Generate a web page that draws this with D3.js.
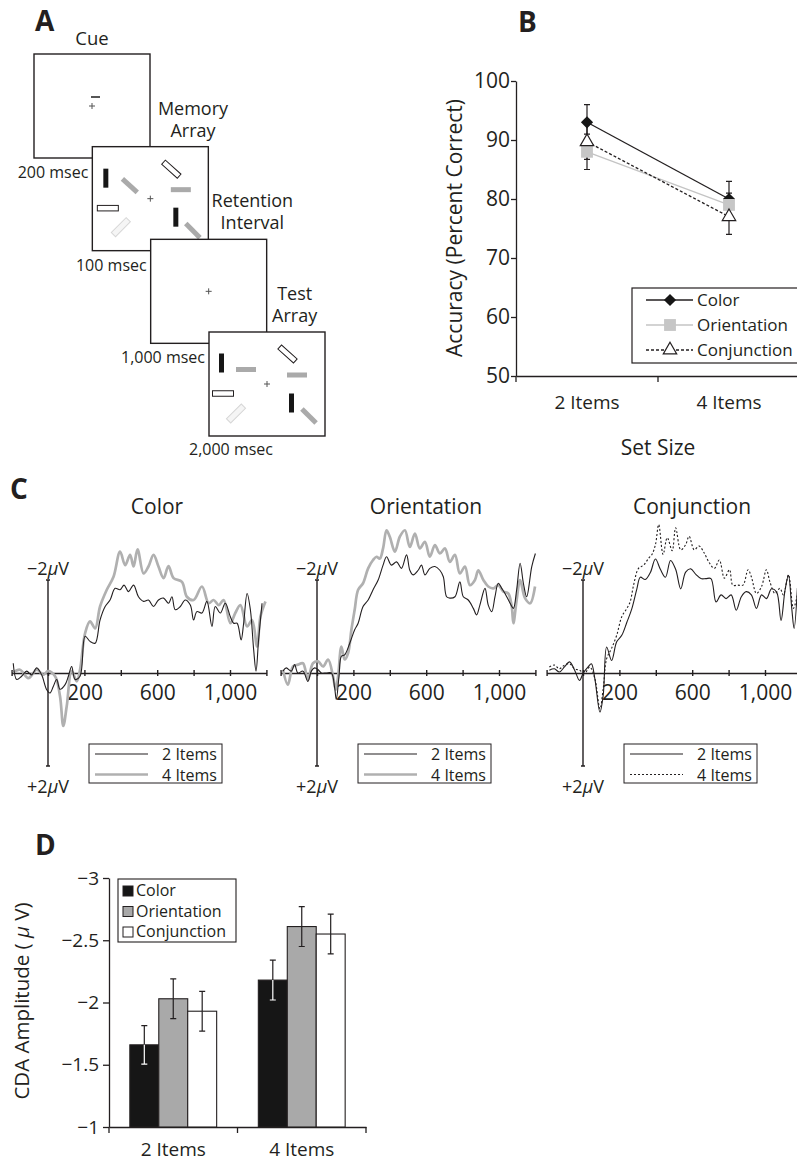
<!DOCTYPE html>
<html lang="en">
<head>
<meta charset="UTF-8">
<title>Visual working memory: accuracy and CDA</title>
<script src="https://d3js.org/d3.v7.min.js"></script>
<style>
    body { margin: 0; background: #fff; }
    svg { display: block; font-family: "Open Sans", sans-serif; }
    text { fill: #231f20; }
</style>
</head>
<body>
<script>
    // ---------- data ----------
    var setSizes = ["2 Items", "4 Items"];
    var conditions = ["Color", "Orientation", "Conjunction"];

    // Panel A: trial sequence
    var frameNames = [["Cue"], ["Memory", "Array"], ["Retention", "Interval"], ["Test", "Array"]];
    var frameDurations = ["200 msec", "100 msec", "1,000 msec", "2,000 msec"];
    // items inside each frame (frame units, angle in degrees)
    var cueItems = [{x: 61.5, y: 43, angle: 0, kind: "cue"}];
    var memoryItems = [
        {x: 13.5, y: 31.5, angle: 90, kind: "black"},
        {x: 37.5, y: 39, angle: 42, kind: "gray"},
        {x: 79, y: 22.5, angle: 42, kind: "outline"},
        {x: 88.5, y: 43, angle: 0, kind: "gray"},
        {x: 15.5, y: 61.5, angle: 0, kind: "outline"},
        {x: 83.5, y: 70.5, angle: 90, kind: "black"},
        {x: 100.5, y: 84, angle: 45, kind: "gray"},
        {x: 28.5, y: 80.5, angle: -45, kind: "light"}
    ];
    var testItems = [
        {x: 12.5, y: 31, angle: 90, kind: "black"},
        {x: 37, y: 37.5, angle: 0, kind: "gray"},
        {x: 78.5, y: 22, angle: 42, kind: "outline"},
        {x: 88, y: 43, angle: 0, kind: "gray"},
        {x: 14, y: 61.5, angle: 0, kind: "outline"},
        {x: 82.5, y: 71, angle: 90, kind: "black"},
        {x: 100, y: 84, angle: 45, kind: "gray"},
        {x: 27, y: 81.5, angle: -45, kind: "light"}
    ];

    // Panel B: accuracy (percent correct)
    var accTicks = [50, 60, 70, 80, 90, 100];
    var accColor = [93, 80], accColorErr = [3, 3];
    var accOrient = [88, 79], accOrientErr = [3, 2];
    var accConj = [89.7, 77], accConjErr = [3, 3];

    // Panel C: CDA waveforms (ms, microvolts; negative plotted up)
    var ercTicks = [-200, 0, 200, 400, 600, 800, 1000, 1200];
    var ercLabeled = [200, 600, 1000];

    var colorT2 = [-191,-172,-145,-117,-90,-62,-35,-7,11,29,48,66,94,112,130,149,176,204,231,259,286,314,341,369,396,418,442,470,497,525,552,580,607,635,662,681,699,727,754,782,800,818,846,873,901,919,947,974,1002,1020,1039,1061,1075,1094,1112,1130,1143,1157,1176];
    var colorV2 = [-0.21,0.14,0.07,-0.04,0.04,-0.11,0.04,0.36,0.43,0.29,0.14,0.35,0.25,0.07,-0.14,0.14,0.07,-0.79,-0.68,-0.64,-1.14,-1.43,-1.57,-1.82,-1.79,-1.89,-1.75,-1.89,-1.64,-1.54,-1.57,-1.43,-1.57,-1.61,-1.5,-1.64,-1.36,-1.43,-1.57,-1.46,-1.14,-1.32,-1.29,-1.54,-1.0,-1.43,-1.29,-1.5,-1.21,-1.07,-1.07,-0.71,-1.07,-1.71,-1.36,-0.5,-0.04,-0.71,-1.5];
    var colorT4 = [-191,-154,-108,-62,-26,0,39,66,84,103,130,158,176,204,231,259,286,323,360,396,424,451,470,492,525,552,580,607,635,662,690,736,763,800,846,883,910,938,965,1002,1029,1057,1094,1121,1149,1167,1195];
    var colorV4 = [-0.01,-0.07,0.11,-0.07,0.04,-0.04,0.07,0.5,1.14,0.71,-0.04,0.18,-0.07,-0.86,-1.11,-0.96,-1.43,-1.79,-2.07,-2.61,-2.32,-2.54,-2.29,-2.66,-2.14,-2.29,-2.54,-2.29,-2.04,-2.3,-2.04,-1.96,-1.64,-1.57,-1.86,-1.5,-1.57,-1.46,-1.57,-1.07,-1.29,-1.46,-1.0,-1.14,-0.57,-1.21,-1.54];

    var orientT2 = [-187,-169,-141,-123,-105,-77,-50,-31,-13,6,24,51,79,97,106,121,134,152,180,207,226,253,281,308,336,363,382,409,437,464,492,510,528,556,574,593,620,648,675,694,712,730,758,785,804,831,859,877,895,923,941,960,978,996,1015,1033,1061,1079,1097,1116,1134,1152,1180,1200];
    var orientV2 = [-0.04,-0.11,-0.04,-0.18,0.0,-0.04,0.18,-0.04,-0.11,-0.07,0.0,0.0,0.0,0.32,0.57,0.07,-0.36,-0.39,-0.64,-0.93,-1.07,-1.43,-1.57,-1.79,-2.0,-2.32,-2.5,-2.32,-2.39,-2.25,-2.54,-2.21,-2.11,-2.21,-2.32,-2.11,-2.25,-2.29,-2.21,-2.07,-1.64,-1.61,-1.64,-1.96,-1.64,-1.57,-1.39,-1.25,-1.46,-1.82,-1.46,-1.32,-1.64,-1.93,-1.82,-1.71,-1.5,-1.39,-1.79,-2.36,-1.93,-1.64,-2.29,-2.57];
    var orientT4 = [-187,-160,-132,-105,-77,-50,-22,6,33,61,88,103,116,134,152,171,189,207,226,253,281,308,327,345,363,382,400,428,455,483,510,538,565,593,620,648,675,703,730,758,785,813,840,868,886,914,941,969,996,1024,1051,1070,1079,1097,1116,1143,1171,1198];
    var orientV4 = [-0.07,0.25,-0.14,-0.18,-0.21,0.14,-0.21,-0.25,-0.14,-0.29,0.07,0.36,0.07,-0.57,-0.29,-0.43,-0.93,-1.36,-1.79,-1.93,-2.25,-2.43,-2.5,-2.46,-2.68,-3.07,-2.93,-2.61,-2.93,-3.07,-2.71,-3.0,-2.68,-2.82,-2.5,-2.75,-2.57,-2.68,-2.39,-2.54,-2.14,-2.29,-1.89,-2.0,-2.21,-2.0,-1.86,-1.82,-1.89,-1.75,-1.71,-1.43,-1.07,-1.57,-2.0,-1.61,-1.5,-1.86];

    var conjT2 = [-185,-157,-130,-102,-74,-46,-19,0,28,46,65,93,111,130,157,185,213,241,268,296,315,342,370,398,425,453,481,509,537,564,592,620,648,675,703,731,759,786,814,842,870,897,925,953,981,1008,1036,1064,1088,1110,1129,1147,1160,1178];
    var conjV2 = [-0.06,-0.09,-0.02,-0.13,-0.24,-0.06,0.16,0.01,-0.13,-0.2,0.12,0.84,0.48,-0.56,-0.27,-0.67,-0.81,-1.09,-1.38,-1.81,-2.06,-2.01,-2.16,-2.45,-2.23,-2.06,-2.42,-2.23,-1.81,-2.17,-2.24,-2.12,-2.03,-2.03,-2.03,-1.53,-1.68,-1.6,-1.68,-1.35,-1.64,-1.75,-1.68,-1.39,-1.68,-1.6,-1.81,-1.74,-1.13,-1.78,-2.1,-1.39,-0.96,-1.83];
    var conjT4 = [-185,-157,-130,-102,-74,-46,-19,9,37,65,93,111,130,157,185,213,241,259,278,305,333,361,379,398,416,440,463,490,509,537,564,583,611,638,666,694,722,749,777,805,823,851,879,907,925,953,981,1008,1027,1055,1082,1101,1129,1156,1178];
    var conjV4 = [-0.13,-0.17,-0.09,-0.17,-0.2,-0.09,-0.06,0.01,-0.13,0.12,0.77,0.34,-0.31,-0.53,-0.81,-1.21,-1.39,-1.53,-1.89,-2.25,-2.32,-2.47,-2.55,-2.76,-3.19,-2.55,-2.91,-2.63,-3.12,-2.65,-2.76,-2.94,-2.65,-2.73,-2.58,-2.37,-2.25,-2.43,-2.04,-2.22,-1.89,-1.89,-1.89,-2.22,-2.07,-1.71,-1.86,-2.22,-1.96,-1.71,-1.82,-1.68,-2.11,-1.39,-1.68];

    // Panel D: CDA amplitude (microvolts)
    var cdaTicks = [-1, -1.5, -2, -2.5, -3];
    var cdaColor = [-1.66, -2.18], cdaColorErr = [0.155, 0.16];
    var cdaOrient = [-2.03, -2.61], cdaOrientErr = [0.16, 0.16];
    var cdaConj = [-1.93, -2.55], cdaConjErr = [0.16, 0.16];

    // ---------- setup ----------
    var ink = "#231f20";
    var svg = d3.select("body").append("svg")
        .attr("width", 797)
        .attr("height", 1164);

    function panelLetter(t, x, y) {
        svg.append("text").attr("x", x).attr("y", y)
            .attr("font-size", 28).attr("font-weight", 700).text(t);
    }
    panelLetter("A", 35, 31);
    panelLetter("B", 518, 32);
    panelLetter("C", 10, 499);
    panelLetter("D", 35, 855);

    // stacked lines in one text element
    function multiLine(g, x, y, lines, lineH, size, anchor) {
        var t = g.append("text").attr("x", x).attr("y", y)
            .attr("text-anchor", anchor).attr("font-size", size);
        lines.forEach(function(l, k) {
            t.append("tspan").attr("x", x).attr("dy", k === 0 ? 0 : lineH).text(l);
        });
        return t;
    }

    // ---------- Panel A ----------
    var gA = svg.append("g");
    var boxW = 116, boxH = 104;
    var frameX = d3.scaleLinear().domain([0, 3]).range([34, 209]);
    var frameY = d3.scaleLinear().domain([0, 3]).range([54, 332]);
    var labelDx = [0, 43, 44, 28];
    var itemSize = {black: [19, 5], gray: [20, 5], outline: [21, 5.5], light: [21, 6], cue: [9, 1.8]};
    var itemFill = {black: "#161616", gray: "#aaaaaa", outline: "#fff", light: "#f5f5f5", cue: "#444"};
    var itemStroke = {black: "none", gray: "none", outline: ink, light: "#d6d6d6", cue: "none"};
    var frameItems = [cueItems, memoryItems, [], testItems];

    frameNames.forEach(function(name, i) {
        var x0 = frameX(i), y0 = frameY(i);
        var g = gA.append("g").attr("transform", "translate(" + x0 + "," + y0 + ")");
        g.append("rect")
            .attr("width", boxW).attr("height", boxH)
            .attr("fill", "#fff").attr("stroke", ink).attr("stroke-width", 1.4);

        // fixation cross
        var cx = boxW / 2, cy = boxH / 2;
        g.append("path")
            .attr("d", "M" + (cx - 3) + "," + cy + "h6M" + cx + "," + (cy - 3) + "v6")
            .attr("stroke", "#555").attr("stroke-width", 1);

        g.selectAll(".item")
            .data(frameItems[i])
            .enter().append("rect")
            .attr("class", "item")
            .attr("x", function(d) { return -itemSize[d.kind][0] / 2; })
            .attr("y", function(d) { return -itemSize[d.kind][1] / 2; })
            .attr("width", function(d) { return itemSize[d.kind][0]; })
            .attr("height", function(d) { return itemSize[d.kind][1]; })
            .attr("fill", function(d) { return itemFill[d.kind]; })
            .attr("stroke", function(d) { return itemStroke[d.kind]; })
            .attr("stroke-width", 1)
            .attr("transform", function(d) { return "translate(" + d.x + "," + d.y + ") rotate(" + d.angle + ")"; });

        // frame title
        if (i === 0) {
            gA.append("text").attr("x", x0 + boxW / 2).attr("y", 45)
                .attr("text-anchor", "middle").attr("font-size", 18.5).text(name[0]);
        } else {
            var lx = frameX(i - 1) + boxW + labelDx[i];
            multiLine(gA, lx, y0 - 32, name, 22, 18, "middle");
        }
    });

    // durations, drawn after boxes
    frameDurations.forEach(function(t, i) {
        var ex = i < 3 ? frameX(i + 1) - 4 : frameX(i) + 64;
        gA.append("text")
            .attr("x", ex).attr("y", frameY(i) + boxH + (i < 3 ? 20 : 19))
            .attr("text-anchor", "end").attr("font-size", 16).text(t);
    });

    // ---------- Panel B ----------
    var gB = svg.append("g");
    var bx = d3.scaleBand().domain(setSizes).range([516, 800]);
    var by = d3.scaleLinear().domain([50, 100]).range([376, 81]);

    var yAxisB = gB.append("g").attr("transform", "translate(516,0)")
        .call(d3.axisLeft(by).tickValues(accTicks).tickSize(5).tickPadding(1).tickSizeOuter(0));
    var xAxisB = gB.append("g").attr("transform", "translate(0,376)")
        .call(d3.axisBottom(bx).tickSize(0).tickPadding(20).tickSizeOuter(0));
    yAxisB.selectAll("text").attr("font-size", 21).attr("font-family", "Open Sans").attr("fill", ink);
    xAxisB.selectAll("text").attr("font-size", 19).attr("font-family", "Open Sans").attr("fill", ink);
    gB.selectAll(".domain, .tick line").attr("stroke", ink).attr("stroke-width", 1.3);
    gB.selectAll(".bound")
        .data(setSizes)
        .enter().append("line")
        .attr("x1", function(d) { return bx(d); }).attr("x2", function(d) { return bx(d); })
        .attr("y1", 376).attr("y2", 382)
        .attr("stroke", ink).attr("stroke-width", 1.3);

    gB.append("text").attr("x", (bx.range()[0] + bx.range()[1]) / 2).attr("y", 455)
        .attr("text-anchor", "middle").attr("font-size", 21).text("Set Size");
    gB.append("text").attr("transform", "translate(462,228) rotate(-90)")
        .attr("text-anchor", "middle").attr("font-size", 21).text("Accuracy (Percent Correct)");

    var accSeries = [
        {name: "Color", values: accColor, errs: accColorErr},
        {name: "Orientation", values: accOrient, errs: accOrientErr},
        {name: "Conjunction", values: accConj, errs: accConjErr}
    ];
    var accStyle = {
        Color: {stroke: ink, dash: null, symbol: d3.symbolSquare, size: 74, rot: 45, fill: "#161616", mstroke: "none"},
        Orientation: {stroke: "#c4c4c4", dash: null, symbol: d3.symbolSquare, size: 140, rot: 0, fill: "#c6c6c6", mstroke: "none"},
        Conjunction: {stroke: ink, dash: "3,2", symbol: d3.symbolTriangle, size: 78, rot: 0, fill: "#fff", mstroke: ink}
    };
    var cx = function(i) { return bx(setSizes[i]) + bx.bandwidth() / 2; };
    var accLine = d3.line().x(function(d, i) { return cx(i); }).y(function(d) { return by(d); });

    accSeries.forEach(function(s) {
        var st = accStyle[s.name];
        gB.append("path").attr("d", accLine(s.values))
            .attr("fill", "none").attr("stroke", st.stroke).attr("stroke-width", 1.3)
            .attr("stroke-dasharray", st.dash);
    });
    accSeries.forEach(function(s) {
        s.values.forEach(function(v, i) {
            var x = cx(i), y1 = by(v + s.errs[i]), y2 = by(v - s.errs[i]);
            gB.append("path")
                .attr("d", "M" + x + "," + y1 + "V" + y2 + "M" + (x - 3) + "," + y1 + "h6M" + (x - 3) + "," + y2 + "h6")
                .attr("stroke", ink).attr("stroke-width", 1.2).attr("fill", "none");
        });
    });
    function marker(g, name, x, y) {
        var st = accStyle[name];
        g.append("path")
            .attr("d", d3.symbol(st.symbol, st.size)())
            .attr("transform", "translate(" + x + "," + y + ") rotate(" + st.rot + ")")
            .attr("fill", st.fill).attr("stroke", st.mstroke).attr("stroke-width", 1.2);
    }
    accSeries.forEach(function(s) {
        s.values.forEach(function(v, i) { marker(gB, s.name, cx(i), by(v)); });
    });

    // legend B
    var legB = gB.append("g");
    legB.append("rect").attr("x", 632).attr("y", 288).attr("width", 172).attr("height", 75)
        .attr("fill", "#fff").attr("stroke", ink).attr("stroke-width", 1.2);
    conditions.forEach(function(name, k) {
        var ry = 300 + k * 25, st = accStyle[name];
        legB.append("line").attr("x1", 646).attr("x2", 693).attr("y1", ry).attr("y2", ry)
            .attr("stroke", st.stroke).attr("stroke-width", 1.3).attr("stroke-dasharray", st.dash);
        marker(legB, name, 670, ry);
        legB.append("text").attr("x", 697).attr("y", ry + 6).attr("font-size", 17).text(name);
    });

    // ---------- Panel C ----------
    var ercAxisX = [48, 317, 583];
    var ercPanels = [
        {title: "Color", t2: colorT2, v2: colorV2, t4: colorT4, v4: colorV4, style4: "gray"},
        {title: "Orientation", t2: orientT2, v2: orientV2, t4: orientT4, v4: orientV4, style4: "gray"},
        {title: "Conjunction", t2: conjT2, v2: conjV2, t4: conjT4, v4: conjV4, style4: "dotted"}
    ];
    var yC = d3.scaleLinear().domain([-2, 2]).range([580, 766]);
    var style4 = {
        gray: {stroke: "#b0b0b0", width: 2.7, dash: null},
        dotted: {stroke: ink, width: 1.1, dash: "2,2"}
    };

    function uvLabel(g, x, y, sign) {
        var t = g.append("text").attr("x", x).attr("y", y).attr("text-anchor", "middle").attr("font-size", 18);
        t.append("tspan").text(sign + "2");
        t.append("tspan").attr("font-style", "italic").text("\u03bc");
        t.append("tspan").text("V");
    }

    ercPanels.forEach(function(p, i) {
        var x0 = ercAxisX[i];
        var g = svg.append("g");
        var x = d3.scaleLinear().domain([-200, 1200]).range([x0 - 36.4, x0 + 218.4]);

        g.append("text").attr("x", x0 + 109).attr("y", 514)
            .attr("text-anchor", "middle").attr("font-size", 21).text(p.title);

        var ax = g.append("g").attr("transform", "translate(0," + yC(0) + ")")
            .call(d3.axisBottom(x).tickValues(ercTicks)
                .tickFormat(function(d) { return ercLabeled.indexOf(d) >= 0 ? d3.format(",")(d) : ""; })
                .tickSize(3).tickPadding(9).tickSizeOuter(0));
        ax.selectAll(".tick line").attr("y1", -3);
        ax.selectAll(".domain, .tick line").attr("stroke", ink).attr("stroke-width", 1.4);
        ax.selectAll("text").attr("font-size", 21).attr("font-family", "Open Sans").attr("fill", ink);

        g.append("path")
            .attr("d", "M" + x(0) + "," + yC(-2) + "V" + yC(2) +
                       "M" + (x(0) - 2) + "," + yC(-2) + "h4M" + (x(0) - 2) + "," + yC(2) + "h4")
            .attr("stroke", ink).attr("stroke-width", 1.4);
        uvLabel(g, x(0), 575, "\u2212");
        uvLabel(g, x(0), 793, "+");

        var line = d3.line()
            .x(function(d) { return x(d[0]); })
            .y(function(d) { return yC(d[1]); })
            .curve(d3.curveCatmullRom.alpha(0.5));
        var s4 = style4[p.style4];
        g.append("path").attr("d", line(d3.zip(p.t4, p.v4)))
            .attr("fill", "none").attr("stroke", s4.stroke).attr("stroke-width", s4.width)
            .attr("stroke-dasharray", s4.dash).attr("stroke-linejoin", "round");
        g.append("path").attr("d", line(d3.zip(p.t2, p.v2)))
            .attr("fill", "none").attr("stroke", ink).attr("stroke-width", 1.1)
            .attr("stroke-linejoin", "round");

        // legend
        var lg = g.append("g").attr("transform", "translate(" + (x0 + 41) + ",744)");
        lg.append("rect").attr("width", 133).attr("height", 39)
            .attr("fill", "#fff").attr("stroke", ink).attr("stroke-width", 1);
        lg.append("line").attr("x1", 6).attr("x2", 59).attr("y1", 10).attr("y2", 10)
            .attr("stroke", ink).attr("stroke-width", 1.1);
        lg.append("line").attr("x1", 6).attr("x2", 59).attr("y1", 30.5).attr("y2", 30.5)
            .attr("stroke", s4.stroke).attr("stroke-width", s4.width).attr("stroke-dasharray", s4.dash);
        multiLine(lg, 128, 16, setSizes, 20.5, 16, "end");
    });

    // ---------- Panel D ----------
    var gD = svg.append("g");
    var dx0 = d3.scaleBand().domain(setSizes).range([109, 366]);
    var dx1 = d3.scaleBand().domain(conditions).range([0, dx0.bandwidth()]).paddingInner(0).paddingOuter(0.72);
    var dy = d3.scaleLinear().domain([-1, -3]).range([1127, 878]);

    var yAxisD = gD.append("g").attr("transform", "translate(109,0)")
        .call(d3.axisLeft(dy).tickValues(cdaTicks).tickFormat(d3.format("")).tickSize(6).tickPadding(4).tickSizeOuter(0));
    var xAxisD = gD.append("g").attr("transform", "translate(0,1127)")
        .call(d3.axisBottom(dx0).tickSize(0).tickPadding(16).tickSizeOuter(0));
    yAxisD.selectAll("text").attr("font-size", 19).attr("font-family", "Open Sans").attr("fill", ink);
    xAxisD.selectAll("text").attr("font-size", 19).attr("font-family", "Open Sans").attr("fill", ink);
    gD.selectAll(".domain, .tick line").attr("stroke", ink).attr("stroke-width", 1.3);
    gD.selectAll(".bound")
        .data(setSizes.concat(["end"]))
        .enter().append("line")
        .attr("x1", function(d) { return d === "end" ? dx0.range()[1] : dx0(d); })
        .attr("x2", function(d) { return d === "end" ? dx0.range()[1] : dx0(d); })
        .attr("y1", 1127).attr("y2", 1133)
        .attr("stroke", ink).attr("stroke-width", 1.3);

    var yl = gD.append("text").attr("transform", "translate(29,1001) rotate(-90)")
        .attr("text-anchor", "middle").attr("font-size", 20.5);
    yl.append("tspan").text("CDA Amplitude ( ");
    yl.append("tspan").attr("font-style", "italic").text("\u03bc");
    yl.append("tspan").text(" V)");

    var cdaSeries = [
        {name: "Color", values: cdaColor, errs: cdaColorErr},
        {name: "Orientation", values: cdaOrient, errs: cdaOrientErr},
        {name: "Conjunction", values: cdaConj, errs: cdaConjErr}
    ];
    var barFill = {Color: "#161616", Orientation: "#a9a9a9", Conjunction: "#fff"};

    cdaSeries.forEach(function(s) {
        s.values.forEach(function(v, i) {
            var x = dx0(setSizes[i]) + dx1(s.name), w = dx1.bandwidth();
            gD.append("rect").attr("x", x).attr("y", dy(v))
                .attr("width", w).attr("height", dy(-1) - dy(v))
                .attr("fill", barFill[s.name]).attr("stroke", ink).attr("stroke-width", 1.1);
            var mx = x + w / 2, top = dy(v - s.errs[i]), bot = dy(v + s.errs[i]);
            var inner = s.name === "Color" ? "#fff" : ink;
            gD.append("path").attr("d", "M" + mx + "," + top + "V" + dy(v) + "M" + (mx - 3) + "," + top + "h6")
                .attr("stroke", ink).attr("stroke-width", 1.2);
            gD.append("path").attr("d", "M" + mx + "," + dy(v) + "V" + bot + "M" + (mx - 3) + "," + bot + "h6")
                .attr("stroke", inner).attr("stroke-width", 1.2);
        });
    });

    // legend D
    var legD = gD.append("g").attr("transform", "translate(118,879)");
    legD.append("rect").attr("width", 118).attr("height", 63)
        .attr("fill", "#fff").attr("stroke", ink).attr("stroke-width", 1.1);
    conditions.forEach(function(name, k) {
        legD.append("rect").attr("x", 5).attr("y", 7 + k * 20.5).attr("width", 10).attr("height", 10)
            .attr("fill", barFill[name]).attr("stroke", ink).attr("stroke-width", 1);
    });
    multiLine(legD, 18, 17, conditions, 20.5, 16, "start");
</script>
</body>
</html>
